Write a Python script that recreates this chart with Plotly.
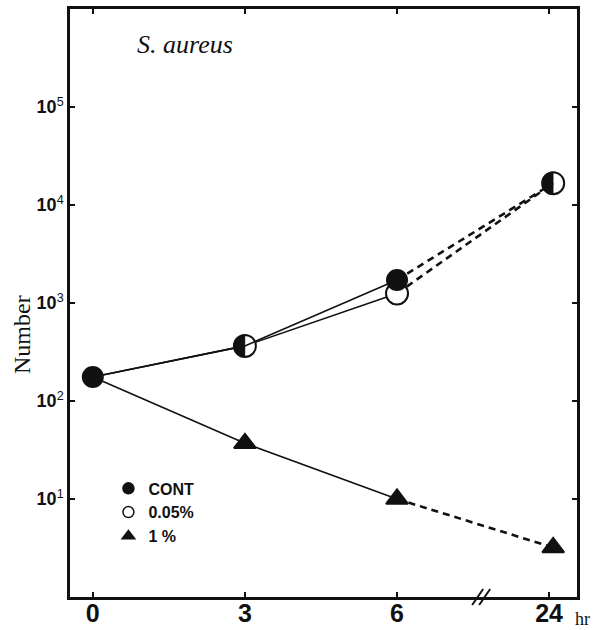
import numpy as np
import plotly.graph_objects as go

# ---------------- data ----------------
hours = [0, 3, 6, 24]
hour_labels = ["0", "3", "6", "24"]
cont = [176, 365, 1720, 16700]
pct005 = [176, 365, 1250, 16700]
pct1 = [176, 37, 10, 3.2]
series_names = ["CONT", "0.05%", "1 %"]
y_tick_vals = [1e1, 1e2, 1e3, 1e4, 1e5]
y_tick_exp = [1, 2, 3, 4, 5]
shared_hours = [3, 24]          # CONT and 0.05% coincide -> half-filled symbol

# broken time axis: 0-6 h linear, 24 h placed after the break
def tick_pos(h):
    return h if h <= 6 else 9.0

def mark_pos(h):
    return h if h <= 6 else 9.08

BLACK = "#111111"
FONT_SANS = "Liberation Sans"
FONT_SERIF = "Liberation Serif"

fig = go.Figure()

def add_series(vals, symbol, fill, size, hide_at, solid_w=1.6, dash_w=2.6):
    xs = [mark_pos(h) for h in hours]
    solid_idx = [i for i, h in enumerate(hours) if h <= 6]
    dash_idx = [i for i, h in enumerate(hours) if h >= 6]
    fig.add_trace(go.Scatter(x=[xs[i] for i in solid_idx], y=[vals[i] for i in solid_idx],
                             mode="lines", line=dict(color=BLACK, width=solid_w),
                             showlegend=False, hoverinfo="skip"))
    fig.add_trace(go.Scatter(x=[xs[i] for i in dash_idx], y=[vals[i] for i in dash_idx],
                             mode="lines", line=dict(color=BLACK, width=dash_w, dash="7px,5px"),
                             showlegend=False, hoverinfo="skip"))
    op = [0 if h in hide_at else 1 for h in hours]
    fig.add_trace(go.Scatter(x=xs, y=vals, mode="markers",
                             marker=dict(symbol=symbol, size=size, color=fill, opacity=op,
                                         line=dict(color=BLACK, width=2)),
                             showlegend=False, hoverinfo="skip"))

add_series(pct1, "triangle-up", BLACK, 19, hide_at=[0])
add_series(pct005, "circle", "white", 22, hide_at=[0])
add_series(cont, "circle", BLACK, 20, hide_at=shared_hours)

# half-filled symbols where CONT and 0.05% coincide
r = 11
theta = np.linspace(0, np.pi, 25)
pts = [(-r * np.sin(t), r * np.cos(t)) for t in theta]
half_path = "M " + " L ".join(f"{px:.2f},{py:.2f}" for px, py in pts) + " Z"
for h in shared_hours:
    i = hours.index(h)
    fig.add_shape(type="path", xref="x", yref="y", xsizemode="pixel", ysizemode="pixel",
                  xanchor=mark_pos(h), yanchor=cont[i], path=half_path,
                  fillcolor=BLACK, line=dict(color=BLACK, width=0.5), layer="above")

# legend-only entries
legend_syms = [("circle", BLACK), ("circle", "white"), ("triangle-up", BLACK)]
for name, (sym, fill) in zip(series_names, legend_syms):
    fig.add_trace(go.Scatter(x=[None], y=[None], mode="markers", name=f"<b>{name}</b>",
                             legendgroup=name,
                             marker=dict(symbol=sym, size=11, color=fill,
                                         line=dict(color=BLACK, width=1.5))))

# axis break marks
for dx in (0, 7):
    fig.add_shape(type="line", xref="x", yref="paper", xsizemode="pixel", ysizemode="pixel",
                  xanchor=7.6, yanchor=0, x0=-6 + dx, y0=-8, x1=5 + dx, y1=8,
                  line=dict(color=BLACK, width=2))

fig.update_layout(
    width=594, height=630,
    margin=dict(l=70, r=17, t=9, b=33, autoexpand=False),
    paper_bgcolor="white", plot_bgcolor="white",
    showlegend=True,
    legend=dict(x=0.0758, y=0.2136, xanchor="left", yanchor="top",
                font=dict(family=FONT_SANS, size=16, color=BLACK),
                bgcolor="rgba(0,0,0,0)", tracegroupgap=0, itemwidth=30),
    xaxis=dict(range=[-0.45, 9.55], tickvals=[tick_pos(h) for h in hours],
               ticktext=[f"<b>{t}</b>" for t in hour_labels],
               tickfont=dict(family=FONT_SANS, size=25, color=BLACK),
               ticks="inside", ticklen=5, tickwidth=2, tickcolor=BLACK,
               ticklabelstandoff=-8,
               showline=True, linewidth=2.5, linecolor=BLACK, mirror="ticks",
               showgrid=False, zeroline=False, automargin=False),
    yaxis=dict(type="log", range=[0, 6], tickvals=y_tick_vals,
               ticktext=[f"<b>10</b><sup>{e}</sup>" for e in y_tick_exp],
               tickfont=dict(family=FONT_SANS, size=18, color=BLACK),
               ticks="inside", ticklen=5, tickwidth=2, tickcolor=BLACK,
               showline=True, linewidth=2.5, linecolor=BLACK, mirror="ticks",
               showgrid=False, zeroline=False, automargin=False),
    annotations=[
        dict(text="<i>S. aureus</i>", xref="paper", yref="paper", x=0.227, y=0.939,
             xanchor="center", yanchor="middle", showarrow=False,
             font=dict(family=FONT_SERIF, size=26, color=BLACK)),
        dict(text="Number", xref="paper", yref="paper", x=0, xshift=-48, y=0.4456,
             xanchor="center", yanchor="middle",
             textangle=-90, showarrow=False,
             font=dict(family=FONT_SERIF, size=24, color=BLACK)),
        dict(text="hr", xref="paper", yref="paper", x=1, xshift=-3, xanchor="left",
             y=-0.0561, yanchor="bottom", showarrow=False, borderpad=0,
             font=dict(family=FONT_SERIF, size=18, color=BLACK)),
    ],
)

fig.write_html("out.html", config={"displayModeBar": False},
               post_script="document.body.style.margin='0px';"
                           "document.body.style.overflow='hidden';")
